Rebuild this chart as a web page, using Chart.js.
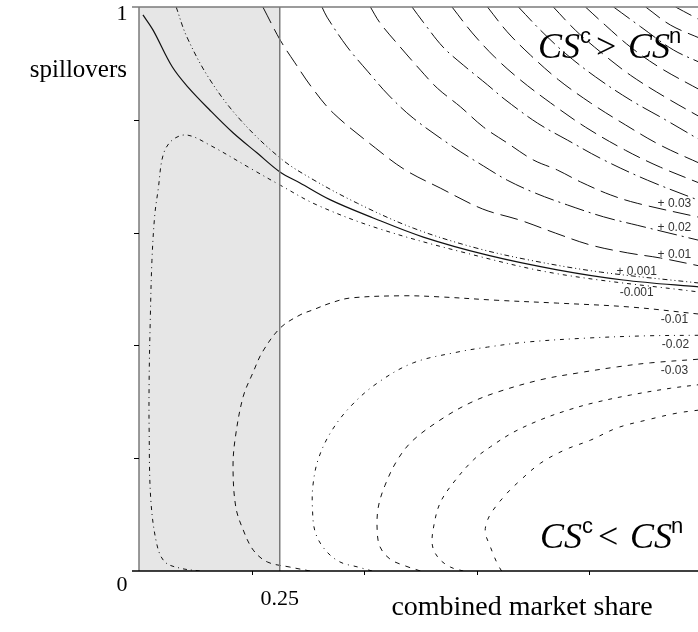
<!DOCTYPE html>
<html>
<head>
<meta charset="utf-8">
<script src="https://cdn.jsdelivr.net/npm/chart.js@4.4.1/dist/chart.umd.min.js"></script>
<style>
  html, body { margin: 0; padding: 0; background: #fff; overflow: hidden; }
</style>
</head>
<body>
<canvas id="contours" width="702" height="632"></canvas>
<script>
// contour lines: [combined market share, spillovers]
const zeroLine = [[0.007,0.986],[0.025,0.959],[0.059,0.894],[0.087,0.858],[0.126,0.817],[0.167,0.777],[0.210,0.741],[0.251,0.707],[0.286,0.688],[0.340,0.658],[0.416,0.626],[0.505,0.592],[0.619,0.560],[0.743,0.534],[0.860,0.516],[1.0,0.503]];
const plus0001 = [[0.066,1.0],[0.085,0.947],[0.126,0.871],[0.180,0.800],[0.251,0.732],[0.304,0.697],[0.388,0.652],[0.487,0.608],[0.594,0.574],[0.695,0.551],[0.820,0.530],[1.0,0.510]];
const minus0001 = [[0.108,0],[0.073,0.005],[0.046,0.016],[0.032,0.046],[0.021,0.126],[0.018,0.250],[0.018,0.339],[0.020,0.445],[0.023,0.551],[0.028,0.631],[0.034,0.676],[0.043,0.738],[0.059,0.764],[0.085,0.773],[0.126,0.755],[0.203,0.711],[0.251,0.684],[0.316,0.649],[0.423,0.608],[0.580,0.564],[0.743,0.527],[1.0,0.494]];

const plus001 = [[0.220,1.0],[0.251,0.941],[0.277,0.901],[0.308,0.856],[0.345,0.812],[0.420,0.750],[0.473,0.711],[0.535,0.679],[0.610,0.642],[0.677,0.622],[0.740,0.599],[0.802,0.578],[0.868,0.564],[0.926,0.555],[1.0,0.540]];
const plus002 = [[0.325,1.0],[0.334,0.982],[0.370,0.929],[0.407,0.885],[0.443,0.844],[0.487,0.803],[0.558,0.752],[0.612,0.718],[0.654,0.693],[0.704,0.670],[0.761,0.649],[0.825,0.628],[0.885,0.613],[1.0,0.585]];
const plus003 = [[0.411,1.0],[0.428,0.972],[0.464,0.929],[0.500,0.888],[0.530,0.856],[0.571,0.823],[0.612,0.787],[0.654,0.759],[0.700,0.729],[0.743,0.711],[0.784,0.690],[0.837,0.667],[0.885,0.652],[1.0,0.626]];
const plus004 = [[0.485,1.0],[0.505,0.973],[0.540,0.929],[0.576,0.897],[0.619,0.862],[0.650,0.836],[0.708,0.794],[0.761,0.764],[0.825,0.729],[0.903,0.693],[1.0,0.655]];
const plus005 = [[0.556,1.0],[0.592,0.954],[0.633,0.910],[0.677,0.871],[0.731,0.830],[0.793,0.787],[0.864,0.746],[0.926,0.716],[1.0,0.686]];
const plus006 = [[0.619,1.0],[0.654,0.956],[0.695,0.915],[0.745,0.871],[0.802,0.830],[0.864,0.791],[0.926,0.755],[1.0,0.721]];
const plus007 = [[0.674,1.0],[0.713,0.959],[0.757,0.918],[0.811,0.876],[0.873,0.835],[0.935,0.800],[1.0,0.762]];
const plus008 = [[0.736,1.0],[0.775,0.959],[0.820,0.920],[0.873,0.879],[0.935,0.840],[1.0,0.803]];
const plus009 = [[0.793,1.0],[0.828,0.968],[0.873,0.929],[0.926,0.892],[1.0,0.851]];
const plus010 = [[0.843,1.0],[0.891,0.965],[0.949,0.924],[1.0,0.900]];
const plus011 = [[0.900,1.0],[0.944,0.968],[1.0,0.943]];
const plus012 = [[0.953,1.0],[1.0,0.975]];

const minus001 = [[0.304,0],[0.268,0.007],[0.228,0.016],[0.203,0.037],[0.185,0.073],[0.172,0.113],[0.167,0.184],[0.171,0.236],[0.185,0.309],[0.203,0.353],[0.219,0.388],[0.251,0.431],[0.286,0.454],[0.309,0.463],[0.340,0.475],[0.375,0.484],[0.469,0.488],[0.535,0.486],[0.636,0.480],[0.743,0.475],[0.873,0.468],[1.0,0.455]];
const minus002 = [[0.414,0],[0.389,0.007],[0.357,0.016],[0.331,0.037],[0.313,0.069],[0.308,0.113],[0.309,0.152],[0.318,0.197],[0.340,0.245],[0.375,0.291],[0.423,0.333],[0.487,0.369],[0.565,0.388],[0.619,0.397],[0.690,0.406],[0.796,0.413],[0.903,0.417],[1.0,0.418]];
const minus003 = [[0.500,0],[0.473,0.009],[0.446,0.021],[0.428,0.043],[0.423,0.073],[0.425,0.113],[0.437,0.152],[0.459,0.197],[0.487,0.232],[0.540,0.271],[0.588,0.298],[0.636,0.317],[0.713,0.339],[0.779,0.351],[0.850,0.362],[0.908,0.369],[1.0,0.376]];
const minus004 = [[0.576,0],[0.553,0.007],[0.532,0.023],[0.521,0.046],[0.524,0.082],[0.535,0.121],[0.558,0.156],[0.594,0.197],[0.624,0.220],[0.665,0.246],[0.713,0.268],[0.761,0.285],[0.807,0.298],[0.873,0.312],[0.944,0.324],[1.0,0.331]];
const minus005 = [[0.644,0],[0.636,0.014],[0.624,0.043],[0.615,0.069],[0.619,0.090],[0.629,0.108],[0.651,0.135],[0.672,0.156],[0.713,0.191],[0.757,0.215],[0.802,0.232],[0.850,0.254],[0.903,0.268],[0.956,0.280],[1.0,0.286]];

// axes
const shadeTo = 0.25;
const xTickVals = [0.2, 0.4, 0.6, 0.8];
const yTickVals = [0.2, 0.4, 0.6, 0.8];
const levelText = ['+ 0.03', '+ 0.02', '+ 0.01', '+ 0.001', '-0.001', '-0.01', '-0.02', '-0.03'];

const longDash = [18, 7];
const dashDot = [20, 5, 2, 5];

function contour(arr, dash, width) {
    return {
        data: arr.map(p => ({x: p[0], y: p[1]})),
        showLine: true,
        pointRadius: 0,
        borderColor: '#111',
        borderWidth: width || 1,
        borderDash: dash,
        tension: 0.35,
        fill: false
    };
}

const datasets = [
    contour(zeroLine, [], 1.2),
    contour(plus0001, [5, 3, 1, 3, 1, 3]),
    contour(minus0001, [4, 4, 1, 4]),
    contour(plus001, longDash),
    contour(plus002, dashDot),
    contour(plus003, longDash),
    contour(plus004, dashDot),
    contour(plus005, longDash),
    contour(plus006, longDash),
    contour(plus007, dashDot),
    contour(plus008, longDash),
    contour(plus009, longDash),
    contour(plus010, dashDot),
    contour(plus011, longDash),
    contour(plus012, longDash),
    contour(minus001, [5, 5]),
    contour(minus002, [4, 5, 1, 5]),
    contour(minus003, [5, 6]),
    contour(minus004, [4, 6]),
    contour(minus005, [4, 7])
];

function hline(ctx, x1, x2, y) { ctx.beginPath(); ctx.moveTo(x1, y); ctx.lineTo(x2, y); ctx.stroke(); }
function vline(ctx, x, y1, y2) { ctx.beginPath(); ctx.moveTo(x, y1); ctx.lineTo(x, y2); ctx.stroke(); }

// CS^c > CS^n style label
function csLabel(ctx, x0, base, rel) {
    ctx.textAlign = 'left';
    ctx.textBaseline = 'alphabetic';
    ctx.fillStyle = '#000';
    ctx.font = 'italic 36px "Liberation Serif"';
    ctx.fillText('CS', x0, base);
    ctx.fillText('CS', x0 + 90, base);
    ctx.font = '36px "Liberation Serif"';
    ctx.fillText(rel, x0 + 58, base);
    ctx.font = '22px "Liberation Sans"';
    ctx.fillText('c', x0 + 42, base - 15);
    ctx.fillText('n', x0 + 131, base - 15);
}

const decorations = {
    id: 'decorations',
    beforeDatasetsDraw(chart) {
        const {ctx, chartArea: a, scales: {x}} = chart;
        ctx.save();
        ctx.fillStyle = '#e6e6e6';
        const x0 = x.getPixelForValue(0);
        ctx.fillRect(x0, a.top, x.getPixelForValue(shadeTo) - x0, a.bottom - a.top);
        ctx.restore();
    },
    afterDatasetsDraw(chart) {
        const {ctx, chartArea: a, scales: {x, y}} = chart;
        ctx.save();

        // edge of the shaded band, left axis, top edge
        ctx.strokeStyle = '#7a7a7a';
        ctx.lineWidth = 1.5;
        vline(ctx, x.getPixelForValue(shadeTo), a.top, a.bottom);
        vline(ctx, a.left, a.top, a.bottom);
        hline(ctx, a.left - 7, a.right, a.top);

        // bottom axis
        ctx.strokeStyle = '#000';
        ctx.lineWidth = 1.5;
        hline(ctx, a.left - 7, a.right, a.bottom);
        ctx.lineWidth = 1;
        xTickVals.forEach(v => vline(ctx, Math.round(x.getPixelForValue(v)) + 0.5, a.bottom, a.bottom + 4));
        yTickVals.forEach(v => hline(ctx, a.left - 5, a.left, Math.round(y.getPixelForValue(v)) + 0.5));

        // tick labels
        ctx.fillStyle = '#000';
        ctx.font = '22px "Liberation Serif"';
        ctx.textAlign = 'center';
        ctx.textBaseline = 'middle';
        ctx.fillText('1', a.left - 17, y.getPixelForValue(1) + 7);
        ctx.fillText('0', a.left - 17, y.getPixelForValue(0) + 14);
        ctx.fillText('0.25', x.getPixelForValue(shadeTo), y.getPixelForValue(0) + 28);

        // axis titles
        ctx.font = '25px "Liberation Serif"';
        ctx.textAlign = 'right';
        ctx.fillText('spillovers', a.left - 12, 70);
        ctx.font = '28px "Liberation Serif"';
        ctx.textAlign = 'center';
        ctx.fillText('combined market share', 522, a.bottom + 37);

        // contour levels
        const levelPos = [[0.951,0.652],[0.951,0.608],[0.951,0.560],[0.884,0.530],[0.884,0.493],[0.951,0.445],[0.953,0.401],[0.951,0.356]];
        ctx.font = '12px "Liberation Sans"';
        ctx.fillStyle = '#333';
        levelText.forEach((t, i) => {
            ctx.fillText(t, x.getPixelForValue(levelPos[i][0]), y.getPixelForValue(levelPos[i][1]));
        });

        csLabel(ctx, 538, 58, '>');
        csLabel(ctx, 540, 548, '<');
        ctx.restore();
    }
};

new Chart(document.getElementById('contours'), {
    type: 'scatter',
    data: { datasets: datasets },
    options: {
        responsive: false,
        animation: false,
        events: [],
        layout: { padding: { left: 139, top: 7, right: 0, bottom: 61 } },
        plugins: {
            legend: { display: false },
            tooltip: { enabled: false }
        },
        scales: {
            x: { type: 'linear', min: 0, max: 1, display: false },
            y: { type: 'linear', min: 0, max: 1, display: false }
        }
    },
    plugins: [decorations]
});
</script>
</body>
</html>
